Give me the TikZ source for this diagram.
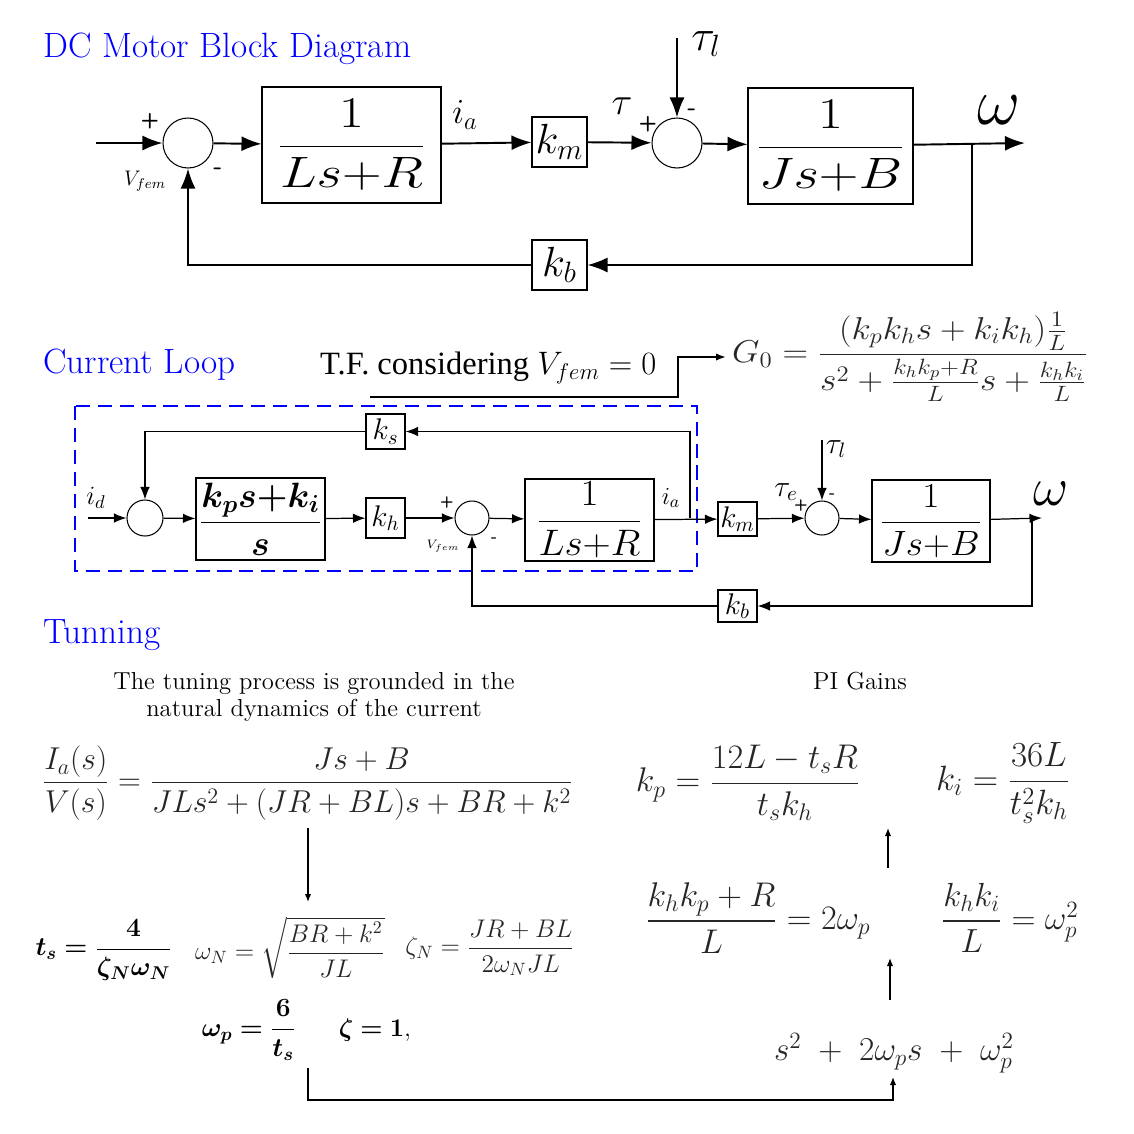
\documentclass[tikz,border=0pt]{standalone}
\usepackage{fix-cm}
\usepackage{amsmath,amssymb}
\usepackage{bm}
\usepackage{fontspec}
\newfontfamily\timesfont{Liberation Serif}
\usetikzlibrary{arrows.meta,positioning}

\newcommand{\fs}[1]{\fontsize{#1}{#1}\selectfont}

\begin{document}
\begin{tikzpicture}[x=0.02cm, y=-0.02cm,
  blockbox/.style={draw, line width=0.6pt, inner sep=0pt},
  gainbox/.style={draw, line width=0.6pt, inner sep=0pt},
  sumnode/.style={draw, circle, line width=0.6pt, inner sep=0pt},
  sectitle/.style={anchor=west, text=blue, font=\fs{20}},
  sgn/.style={font=\sffamily\bfseries\fs{#1}},
  bigarr/.style={line width=1.1pt, -{Latex[length=4mm, width=3mm]}},
  midarr/.style={line width=0.7pt, -{Latex[length=2.5mm, width=1.9mm]}},
  smallarr/.style={line width=0.8pt, -{Latex[length=1.6mm, width=1.3mm]}},
  eqn/.style={text=black!85, font=\fs{#1}}
]
\useasboundingbox (0,0) rectangle (1134,1134);

% DC motor block diagram
\node[sectitle] (title1) at (37,49) {DC Motor Block Diagram};

\coordinate (in1) at (96,143);
\node[sumnode, minimum size=1cm] (sum1) at (188,143) {};
\node[blockbox, minimum width=3.58cm, minimum height=2.32cm, font=\fs{25}] (elec1) at (351.5,145) {\scalebox{1.25}[1]{$\dfrac{1}{Ls{+}R}$}};
\node[font=\fs{20}] (ia1) at (465,115) {$i_a$};
\node[gainbox, minimum width=1.1cm, minimum height=1cm, font=\fs{24}] (km1) at (559.5,142) {$k_m$};
\node[sumnode, minimum size=1cm] (sum2) at (677,143) {};
\node[font=\fs{22}] (tau1) at (622,106) {$\tau$};
\coordinate (tl1) at (677,38);
\node[font=\fs{25}] (taul1) at (706,44) {$\tau_l$};
\node[blockbox, minimum width=3.3cm, minimum height=2.32cm, font=\fs{25}] (mech1) at (830.5,146) {\scalebox{1.25}[1]{$\dfrac{1}{Js{+}B}$}};
\coordinate (out1) at (1025,143);
\node[font=\fs{38}] (w1) at (999,110) {$\omega$};
\coordinate (br1) at (972,143);
\node[gainbox, minimum width=1.1cm, minimum height=1cm, font=\fs{24}] (kb1) at (559.5,265) {$k_b$};

% signs
\node[sgn=12] (p1) at (150,121) {+};
\node[sgn=14] (m1) at (218,171) {-};
\node[font=\fs{12}] (vf1) at (145,181) {$V_{fem}$};
\node[sgn=12] (p2) at (648,124) {+};
\node[sgn=14] (m2) at (692,112) {-};

\draw[bigarr] (in1) -- (sum1);
\draw[bigarr] (sum1) -- (elec1);
\draw[bigarr] (elec1) -- (km1);
\draw[bigarr] (km1) -- (sum2);
\draw[bigarr] (tl1) -- (sum2);
\draw[bigarr] (sum2) -- (mech1);
\draw[bigarr] (mech1) -- (out1);
\draw[bigarr] (br1) |- (kb1);
\draw[bigarr] (kb1) -| (sum1);

% Current loop
\node[sectitle] (title2) at (37,365) {Current Loop};
\node[anchor=west, font=\timesfont\fs{18.5}] (tf) at (314,368) {T.F. considering $V_{fem}=0$};
\node[anchor=west, eqn=18] (g0) at (726,357) {\scalebox{1.12}[1]{$G_0=\dfrac{(k_pk_hs+k_ik_h)\frac{1}{L}}{s^2+\frac{k_hk_p+R}{L}s+\frac{k_hk_i}{L}}$}};
\coordinate (tfline) at (370,397);
\coordinate (tfbend) at (678,357);
\draw[line width=1.1pt, -{Latex[length=2mm, width=1.5mm]}] (tfline) -| (tfbend) -- (g0.west);

\draw[blue, line width=1.1pt, dash pattern=on 8pt off 4.5pt] (75,406) rectangle (697,571);

\coordinate (in2) at (88,518);
\node[font=\fs{15}] (id) at (96,498) {$i_d$};
\node[sumnode, minimum size=0.72cm] (sum3) at (145,518) {};
\node[blockbox, minimum width=2.58cm, minimum height=1.64cm, font=\fs{20}] (pi) at (260.5,519) {$\dfrac{\bm{k_ps{+}k_i}}{\bm{s}}$};
\node[gainbox, minimum width=0.78cm, minimum height=0.8cm, font=\fs{17}] (kh) at (385.5,518) {$k_h$};
\node[gainbox, minimum width=0.78cm, minimum height=0.7cm, font=\fs{17}] (ks) at (385.5,431.5) {$k_s$};
\node[sumnode, minimum size=0.68cm] (sum4) at (472,518) {};
\node[blockbox, minimum width=2.58cm, minimum height=1.64cm, font=\fs{21}] (elec2) at (589.5,520) {\scalebox{1.06}[1]{$\dfrac{1}{Ls{+}R}$}};
\node[font=\fs{14}] (ia2) at (671,498) {$i_a$};
\coordinate (br3) at (690,518);
\node[gainbox, minimum width=0.78cm, minimum height=0.68cm, font=\fs{17}] (km2) at (737.5,519) {$k_m$};
\node[sumnode, minimum size=0.68cm] (sum5) at (822,518) {};
\node[font=\fs{17}] (taue) at (786,492) {$\tau_e$};
\coordinate (tl2) at (822,440);
\node[font=\fs{17}] (taul2) at (836,449) {$\tau_l$};
\node[blockbox, minimum width=2.36cm, minimum height=1.64cm, font=\fs{20}] (mech2) at (931,521) {\scalebox{1.06}[1]{$\dfrac{1}{Js{+}B}$}};
\coordinate (out2) at (1042,518);
\node[font=\fs{31}] (w2) at (1051,494) {$\omega$};
\coordinate (br2) at (1032,518);
\node[gainbox, minimum width=0.78cm, minimum height=0.64cm, font=\fs{17}] (kb2) at (737.5,606) {$k_b$};

% signs
\node[sgn=9] (p3) at (447,503) {+};
\node[font=\fs{7}] (vf2) at (443,546) {$V_{fem}$};
\node[sgn=10] (m3) at (494,540) {-};
\node[sgn=9] (p4) at (801,506) {+};
\node[sgn=10] (m4) at (832,496) {-};

\draw[midarr] (in2) -- (sum3);
\draw[midarr] (sum3) -- (pi);
\draw[midarr] (pi) -- (kh);
\draw[midarr] (kh) -- (sum4);
\draw[midarr] (sum4) -- (elec2);
\draw[midarr] (elec2) -- (km2);
\draw[midarr] (br3) |- (ks);
\draw[midarr] (ks) -| (sum3);
\draw[midarr] (km2) -- (sum5);
\draw[midarr] (tl2) -- (sum5);
\draw[midarr] (sum5) -- (mech2);
\draw[midarr] (mech2) -- (out2);
\draw[midarr] (br2) |- (kb2);
\draw[midarr] (kb2) -| (sum4);

% Tunning
\node[sectitle] (title3) at (37,635) {Tunning};
\node[align=center, font=\fs{14}] (intro) at (314,697) {The tuning process is grounded in the\\[1pt] natural dynamics of the current};
\node[font=\fs{14}] (pig) at (860,681) {PI Gains};

\node[anchor=west, eqn=18] (tfia) at (36,783) {$\dfrac{I_a(s)}{V(s)}=\dfrac{Js+B}{JLs^2+(JR+BL)s+BR+k^2}$};
\node[font=\fs{15}] (ts) at (104,950) {$\bm{t_s=\dfrac{4}{\zeta_N\omega_N}}$};
\node[eqn=14.5] (wn) at (290,948) {$\omega_N=\sqrt{\dfrac{BR+k^2}{JL}}$};
\node[eqn=14.5] (zn) at (490,948) {$\zeta_N=\dfrac{JR+BL}{2\omega_NJL}$};
\node[font=\fs{15}] (wp) at (249,1030) {$\bm{\omega_p=\dfrac{6}{t_s}}$};
\node[font=\fs{14.5}] (zeta) at (375,1030) {$\bm{\zeta=1},$};

\node[eqn=19] (poly) at (894,1053) {$s^2\;+\;2\omega_ps\;+\;\omega_p^2$};
\node[eqn=19.5] (kpeq) at (758,918) {$\dfrac{k_hk_p+R}{L}=2\omega_p$};
\node[eqn=19] (kieq) at (1010,918) {$\dfrac{k_hk_i}{L}=\omega_p^2$};
\node[eqn=19.5] (kp) at (748,783) {$k_p=\dfrac{12L-t_sR}{t_sk_h}$};
\node[eqn=20] (ki) at (1003,783) {$k_i=\dfrac{36L}{t_s^2k_h}$};

\coordinate (a1s) at (308,828);
\coordinate (a1e) at (308,902);
\coordinate (a2s) at (308,1068);
\coordinate (a2e) at (893,1077);
\coordinate (a3s) at (890,1000);
\coordinate (a3e) at (890,958);
\coordinate (a4s) at (888,868);
\coordinate (a4e) at (888,828);
\draw[smallarr] (a1s) -- (a1e);
\draw[smallarr] (a2s) |- (893,1100) -- (a2e);
\draw[smallarr] (a3s) -- (a3e);
\draw[smallarr] (a4s) -- (a4e);

\end{tikzpicture}
\end{document}
